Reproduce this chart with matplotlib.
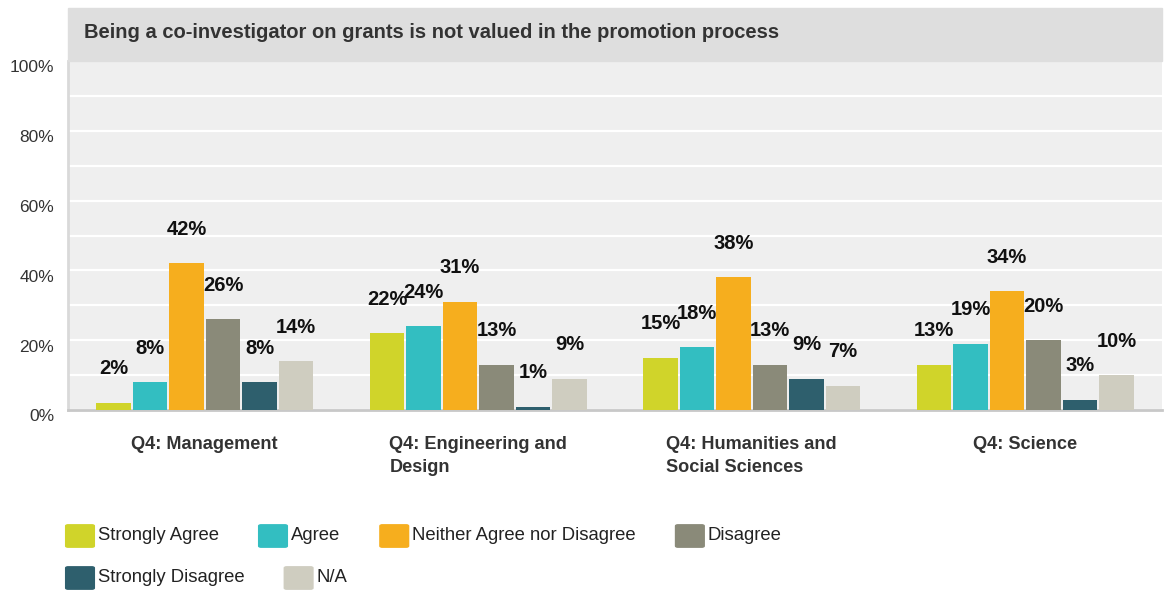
import matplotlib.pyplot as plt
import numpy as np
from matplotlib.patches import FancyBboxPatch, Rectangle

plt.rcParams['font.family'] = ['Liberation Sans', 'DejaVu Sans']

title = 'Being a co-investigator on grants is not valued in the promotion process'
categories = ['Q4: Management', 'Q4: Engineering and\nDesign',
              'Q4: Humanities and\nSocial Sciences', 'Q4: Science']
series = ['Strongly Agree', 'Agree', 'Neither Agree nor Disagree', 'Disagree',
          'Strongly Disagree', 'N/A']
strongly_agree = [2, 22, 15, 13]
agree = [8, 24, 18, 19]
neither = [42, 31, 38, 34]
disagree = [26, 13, 13, 20]
strongly_disagree = [8, 1, 9, 3]
not_applicable = [14, 9, 7, 10]
values = [strongly_agree, agree, neither, disagree, strongly_disagree,
          not_applicable]
colors = ['#d0d42a', '#33bec1', '#f6ae1e', '#8a8a79', '#2e5f6d', '#cfcdc0']
y_ticks = [0, 20, 40, 60, 80, 100]

W, H = 1172, 590
fig = plt.figure(figsize=(W / 100, H / 100), dpi=100)

# plot area in pixels: x 68..1162, y 61..410
ax = fig.add_axes([68 / W, 1 - 410 / H, (1162 - 68) / W, (410 - 61) / H])
ax.set_facecolor('#efefef')

x = np.arange(len(categories))
slot = 0.8 / len(series)
for i, (name, vals, c) in enumerate(zip(series, values, colors)):
    pos = x - 0.4 + slot * (i + 0.5)
    bars = ax.bar(pos, vals, width=slot * 0.94, color=c, zorder=3, label=name)
    for b, v in zip(bars, vals):
        ax.annotate(f'{v}%', (b.get_x() + b.get_width() / 2, v),
                    xytext=(0, 24.5), textcoords='offset points',
                    ha='center', va='center', fontsize=14.5, fontweight='bold',
                    color='#111111', zorder=5)

ax.set_xlim(-0.5, len(categories) - 0.5)
ax.set_ylim(0, 100)
ax.set_yticks(np.arange(0, 101, 10))
ax.yaxis.grid(True, color='white', linewidth=1.6, zorder=1)
ax.set_yticklabels([])
ax.tick_params(axis='y', length=0)
for v in y_ticks:
    ax.annotate(f'{v}%', xy=(0, v), xycoords=('axes fraction', 'data'),
                xytext=(-10, -5), textcoords='offset points',
                ha='right', va='center', fontsize=12.5, color='#333333',
                annotation_clip=False)

ax.tick_params(axis='x', length=0, pad=19)
ax.set_xticks(x)
ax.set_xticklabels(categories, fontsize=13.1, fontweight='bold',
                   color='#333333', multialignment='left', linespacing=1.45)

for s in ['top', 'right']:
    ax.spines[s].set_visible(False)
ax.spines['left'].set_color('#d9d9d9')
ax.spines['left'].set_linewidth(2)
ax.spines['bottom'].set_color('#c8c8c8')
ax.spines['bottom'].set_linewidth(2)

# title band
fig.patches.append(Rectangle((68 / W, 1 - 61 / H), (1162 - 68) / W, 53 / H,
                             transform=fig.transFigure, color='#dedede',
                             zorder=0))
fig.text(84 / W, 1 - 33 / H, title, fontsize=14.5, fontweight='bold',
         color='#333333', va='center', ha='left')

# legend, flowing left to right
fig.canvas.draw()
renderer = fig.canvas.get_renderer()
rows = [(535, series[:4], colors[:4]), (577, series[4:], colors[4:])]
for y, names, cols in rows:
    xp = 66
    for name, c in zip(names, cols):
        fig.patches.append(FancyBboxPatch(
            ((xp + 2) / W, 1 - (y + 11) / H), 24 / W, 20 / H,
            boxstyle='round,pad=0.002', transform=fig.transFigure,
            color=c, zorder=2))
        t = fig.text((xp + 32) / W, 1 - y / H, name, fontsize=13.3,
                     color='#222222', va='center', ha='left')
        ext = t.get_window_extent(renderer)
        xp = ext.x1 + 40

fig.savefig('out.png', dpi=100)
